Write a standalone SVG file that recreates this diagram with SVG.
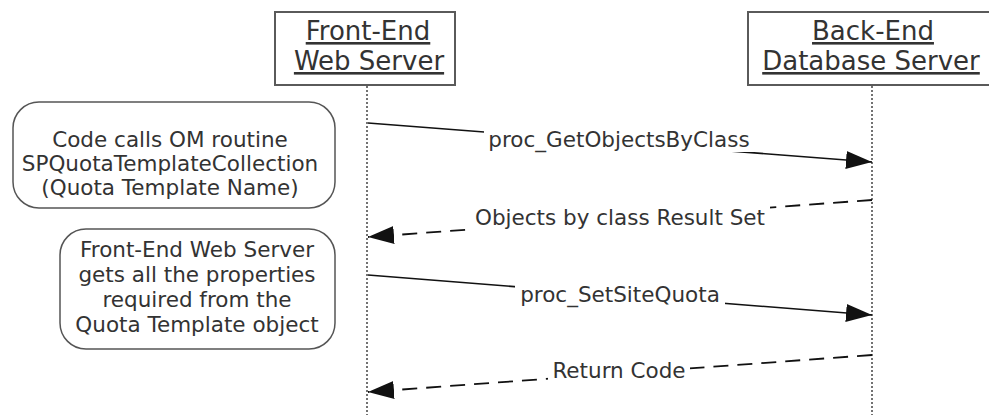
<svg xmlns="http://www.w3.org/2000/svg" width="989" height="415" viewBox="0 0 989 415">
<defs>
<style>
.hdr{fill:#fff;stroke:#5a5a5a;stroke-width:2}
.htxt{font-family:"DejaVu Sans","Liberation Sans",sans-serif;font-size:26px;fill:#333;text-anchor:middle;text-decoration:underline}
.life{stroke:#444;stroke-width:1.5;stroke-dasharray:2 2;fill:none}
.note{fill:#fff;stroke:#555;stroke-width:1.5}
.ntxt{font-family:"DejaVu Sans","Liberation Sans",sans-serif;font-size:21.5px;fill:#333;text-anchor:middle}
.msg{stroke:#111;stroke-width:1.6;fill:none}
.ret{stroke:#111;stroke-width:1.8;fill:none;stroke-dasharray:15 9}
.lbl{font-family:"DejaVu Sans","Liberation Sans",sans-serif;font-size:21.5px;fill:#333;text-anchor:middle}
.bg{fill:#fff}
</style>
<marker id="ah" viewBox="0 0 26 18" refX="26" refY="9" markerWidth="26" markerHeight="18" markerUnits="userSpaceOnUse" orient="auto">
<path d="M0,0 L26,9 L0,18 Z" fill="#111"/>
</marker>
</defs>
<rect width="989" height="415" fill="#fff"/>
<g id="lifelines">
<line class="life" x1="367" y1="86" x2="367" y2="415"/>
<line class="life" x1="872" y1="86" x2="872" y2="415"/>
</g>
<g id="frontend">
<rect class="hdr" x="275" y="12" width="180" height="73"/>
<text class="htxt" x="368" y="40">Front-End</text>
<text class="htxt" x="369" y="70">Web Server</text>
</g>
<g id="backend">
<rect class="hdr" x="748" y="12" width="250" height="73"/>
<text class="htxt" x="873" y="40">Back-End</text>
<text class="htxt" x="871" y="70">Database Server</text>
</g>
<g id="note1">
<rect class="note" x="13" y="102" width="322" height="106" rx="26"/>
<text class="ntxt" x="170" y="147">Code calls OM routine</text>
<text class="ntxt" x="170" y="171">SPQuotaTemplateCollection</text>
<text class="ntxt" x="170" y="195">(Quota Template Name)</text>
</g>
<g id="note2">
<rect class="note" x="60" y="229" width="275" height="120" rx="26"/>
<text class="ntxt" x="197" y="257">Front-End Web Server</text>
<text class="ntxt" x="197" y="282">gets all the properties</text>
<text class="ntxt" x="197" y="307">required from the</text>
<text class="ntxt" x="197" y="332">Quota Template object</text>
</g>
<g id="connectors">
<line class="msg" x1="368" y1="123" x2="872" y2="162" marker-end="url(#ah)"/>
<rect class="bg" x="484" y="128" width="272" height="24"/>
<text class="lbl" x="619" y="147">proc_GetObjectsByClass</text>
<line class="ret" x1="872" y1="200" x2="368" y2="237" marker-end="url(#ah)"/>
<rect class="bg" x="470" y="206" width="300" height="24"/>
<text class="lbl" x="620" y="225">Objects by class Result Set</text>
<line class="msg" x1="368" y1="275" x2="872" y2="315" marker-end="url(#ah)"/>
<rect class="bg" x="515" y="283" width="210" height="24"/>
<text class="lbl" x="620" y="302">proc_SetSiteQuota</text>
<line class="ret" x1="872" y1="355" x2="368" y2="392" marker-end="url(#ah)"/>
<rect class="bg" x="548" y="359" width="142" height="24"/>
<text class="lbl" x="619" y="378">Return Code</text>
</g>
</svg>
